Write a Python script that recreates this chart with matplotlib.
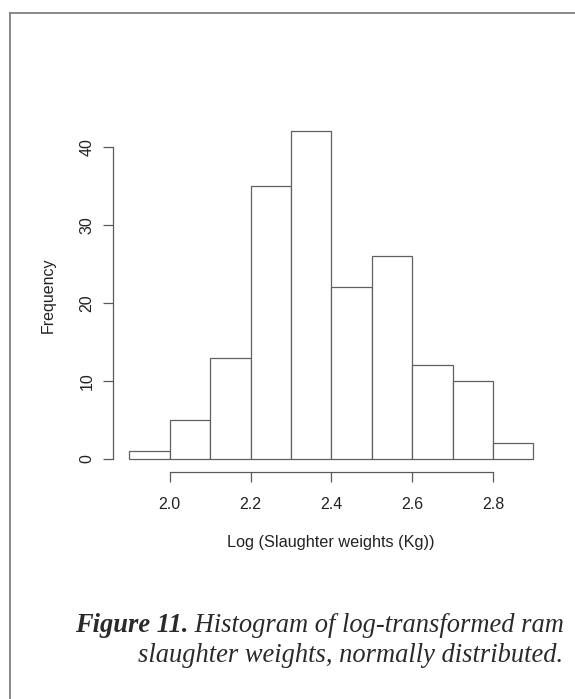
import matplotlib
matplotlib.use("Agg")
import matplotlib.pyplot as plt
from matplotlib.lines import Line2D

# Data
bin_edges = [1.9, 2.0, 2.1, 2.2, 2.3, 2.4, 2.5, 2.6, 2.7, 2.8, 2.9]
counts = [1, 5, 13, 35, 42, 22, 26, 12, 10, 2]
xticks = [2.0, 2.2, 2.4, 2.6, 2.8]
yticks = [0, 10, 20, 30, 40]
xlabel = "Log (Slaughter weights (Kg))"
ylabel = "Frequency"
caption_bold = "Figure 11."
caption_line1 = " Histogram of log-transformed ram"
caption_line2 = "slaughter weights, normally distributed."

W, H = 575, 699
fig = plt.figure(figsize=(W / 100, H / 100), dpi=100)
fig.patch.set_facecolor("white")

# Border (gray box open to right/bottom edges)
border_col = "#808080"
fig.add_artist(Line2D([10.2 / W, 1.0], [1 - 13 / H, 1 - 13 / H], color=border_col, lw=1.3,
                      transform=fig.transFigure))
fig.add_artist(Line2D([10.2 / W, 10.2 / W], [0.0, 1 - 13 / H], color=border_col, lw=1.3,
                      transform=fig.transFigure))

# Axes placed so that data range maps to measured pixels
x0p, x1p = 129.3, 533.4
y0p, ytop = 459.0, 131.4
ax = fig.add_axes([x0p / W, 1 - y0p / H, (x1p - x0p) / W, (y0p - ytop) / H])
ax.set_xlim(1.9, 2.9)
ax.set_ylim(0, 42)
ax.patch.set_alpha(0)

widths = [bin_edges[i + 1] - bin_edges[i] for i in range(len(counts))]
ax.bar(bin_edges[:-1], counts, width=widths, align="edge", facecolor="white",
       edgecolor="#606060", linewidth=0.9, clip_on=False)

axis_col = "#5a5a5a"
for s in ["top", "right"]:
    ax.spines[s].set_visible(False)
ax.spines["bottom"].set_bounds(xticks[0], xticks[-1])
ax.spines["left"].set_bounds(yticks[0], yticks[-1])
ax.spines["bottom"].set_position(("outward", 9.6))
ax.spines["left"].set_position(("outward", 12.0))
for s in ["bottom", "left"]:
    ax.spines[s].set_color(axis_col)
    ax.spines[s].set_linewidth(0.9)

tick_font = dict(family="Liberation Sans", size=11.5)
ax.set_xticks(xticks)
ax.set_xticklabels([f"{v:.1f}" for v in xticks], **tick_font)
ax.set_yticks(yticks)
ax.set_yticklabels([str(v) for v in yticks], rotation=90, va="center", **tick_font)
ax.tick_params(axis="both", length=7, width=0.9, color=axis_col, labelcolor="#222222")
ax.tick_params(axis="x", pad=10.5)
ax.tick_params(axis="y", pad=6)

fig.text(330.7 / W, 1 - 543 / H, xlabel, ha="center", va="center",
         family="Liberation Sans", size=11.7, color="#222222")
fig.text(48 / W, 1 - 295 / H, ylabel, ha="center", va="center", rotation=90,
         family="Liberation Sans", size=11.5, color="#222222")

# Caption
cap_size = 19.1
cap_col = "#2a2a2a"
base1, base2 = 631.5, 662.5
t1 = fig.text(564 / W, 1 - base1 / H, caption_line1, ha="right", va="baseline",
              family="Liberation Serif", style="italic", size=cap_size, color=cap_col)
fig.canvas.draw()
r = fig.canvas.get_renderer()
bb = t1.get_window_extent(renderer=r)
fig.text(bb.x0 / W, 1 - base1 / H, caption_bold, ha="right", va="baseline",
         family="Liberation Serif", style="italic", weight="bold", size=cap_size, color=cap_col)
fig.text(563 / W, 1 - base2 / H, caption_line2, ha="right", va="baseline",
         family="Liberation Serif", style="italic", size=cap_size, color=cap_col)

fig.savefig("out.png", dpi=100, facecolor="white")
